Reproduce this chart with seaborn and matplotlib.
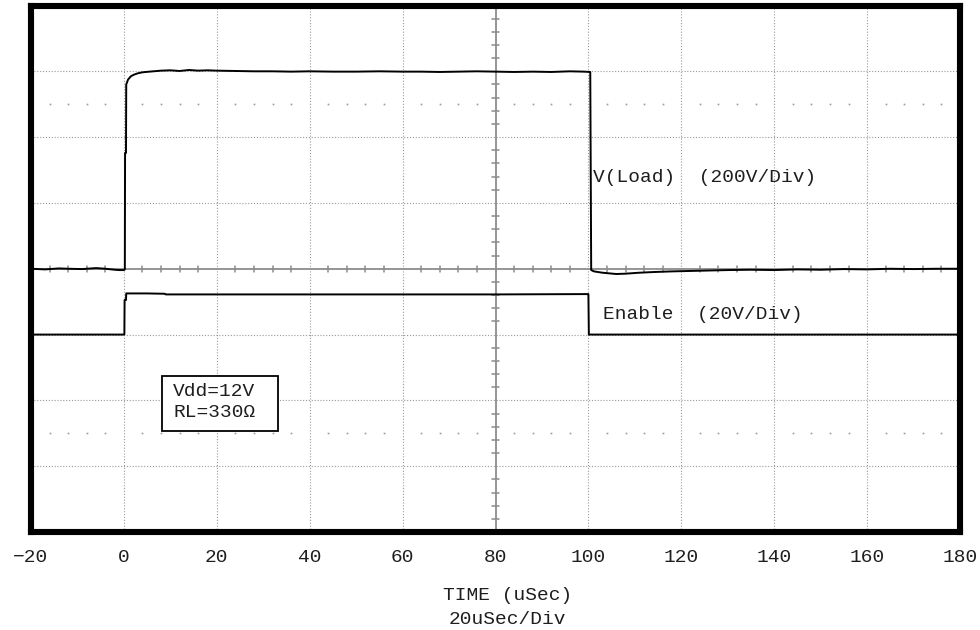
import numpy as np
import pandas as pd
import matplotlib
matplotlib.use("Agg")
import matplotlib.pyplot as plt
from matplotlib.patches import Rectangle
import seaborn as sns

# ---------------- data ----------------
x_ticks = [-20, 0, 20, 40, 60, 80, 100, 120, 140, 160, 180]
x_tick_labels = ["\u221220", "0", "20", "40", "60", "80", "100", "120", "140", "160", "180"]

# V(Load) trace, volts (200 V/div, ground at centre line)
vload_t = [-20, -17, -14, -12, -9, -6, -4, -2, -1, 0, 0.2, 0.25, 0.45, 0.5, 0.9,
           1.5, 2.2, 3.0, 4.0, 5.5, 8, 10, 12, 14, 16, 18, 20, 24, 28, 32, 36, 40,
           45, 50, 55, 60, 64, 68, 72, 76, 80, 84, 88, 92, 96, 99, 100.4, 100.6,
           101.2, 103, 106, 108, 111, 114, 118, 124, 130, 135, 140, 145, 150, 155,
           160, 165, 170, 175, 180]
vload_v = [0, -2, 1, 0, -1, 2, 0, -3, -4, -4, -2, 352, 352, 560, 575,
           585, 590, 594, 597, 599, 602, 603, 601, 604, 602, 603, 602, 601, 600, 600, 599, 600,
           599, 599, 600, 599, 599, 598, 599, 600, 599, 598, 599, 598, 600, 599, 598, -4,
           -8, -12, -16, -15, -12, -10, -8, -6, -4, -3, -4, -2, -3, -1,
           -2, 0, -1, 0, 0]

# Enable trace, volts (20 V/div, ground one division below centre)
enable_t = [-20, 0.1, 0.15, 0.45, 0.5, 5, 8.8, 9, 20, 40, 60, 80, 99.9, 100.0, 100.1, 180]
enable_v = [0, 0, 10.5, 10.5, 12.5, 12.5, 12.4, 12.2, 12.2, 12.2, 12.2, 12.2, 12.3, 12.3, 0, 0]

vload_scale = 200.0   # V / div
enable_scale = 20.0   # V / div
enable_offset = -1.0  # div

# ---------------- figure ----------------
sns.set_style("white")
plt.rcParams["font.family"] = ["Liberation Mono", "DejaVu Sans"]
FS = 14

fig = plt.figure(figsize=(9.8, 6.3), dpi=100)
ax = fig.add_axes([31 / 980, 1 - 532 / 630, 929 / 980, 526.5 / 630])

df_v = pd.DataFrame({"t": vload_t, "div": np.array(vload_v) / vload_scale})
df_e = pd.DataFrame({"t": enable_t, "div": enable_offset + np.array(enable_v) / enable_scale})

# graticule
grid_kw = dict(color="#9a9a9a", lw=0.8, ls=(0, (1, 1.6)), zorder=1)
for xv in range(-20, 181, 20):
    if xv != 80:
        ax.axvline(xv, **grid_kw)
for yv in range(-4, 5):
    if yv != 0:
        ax.axhline(yv, **grid_kw)
ax.axvline(80, color="#8c8c8c", lw=1.3, zorder=1)
ax.axhline(0, color="#8c8c8c", lw=1.3, zorder=1)
minor_x = [v for v in np.arange(-20, 181, 4) if v % 20 != 0]
for xv in minor_x:
    ax.plot([xv, xv], [-0.045, 0.045], color="#8c8c8c", lw=1.1, zorder=1)
for yv in np.arange(-4, 4.01, 0.2):
    if abs(yv - round(yv)) > 1e-6:
        ax.plot([79.3, 80.7], [yv, yv], color="#8c8c8c", lw=1.1, zorder=1)
for yrow in (2.5, -2.5):
    ax.plot(minor_x, [yrow] * len(minor_x), ls="none", marker="s", ms=1.2,
            color="#9a9a9a", mec="none", zorder=1)

# traces
sns.lineplot(data=df_v, x="t", y="div", ax=ax, color="black", lw=1.4,
             sort=False, estimator=None, zorder=3)
sns.lineplot(data=df_e, x="t", y="div", ax=ax, color="black", lw=1.4,
             sort=False, estimator=None, zorder=3)

# labels inside
txt_kw = dict(fontsize=FS, color="#1e1e1e", va="center", ha="left", zorder=4)
ax.text(101.0, 1.38, "V(Load)  (200V/Div)", **txt_kw)
ax.text(103.2, -0.70, "Enable  (20V/Div)", **txt_kw)
ax.add_patch(Rectangle((8.3, -2.47), 24.8, 0.84, fill=True, facecolor="white",
                       edgecolor="black", lw=1.3, zorder=4))
ax.text(10.6, -1.87, "Vdd=12V", **txt_kw)
ax.text(10.6, -2.19, "RL=330Ω", **txt_kw)

ax.set_xlim(-20, 180)
ax.set_ylim(-4, 4)
ax.set_xticks(x_ticks)
ax.set_xticklabels(x_tick_labels)
ax.set_yticks([])
ax.tick_params(axis="x", length=0, pad=12, labelsize=FS, labelcolor="#1e1e1e")
ax.set_xlabel("")
ax.set_ylabel("")
for sp in ax.spines.values():
    sp.set_visible(True)
    sp.set_color("black")
    sp.set_linewidth(4.4)
    sp.set_zorder(5)

fig.text(508 / 980, 1 - 596 / 630, "TIME (uSec)", ha="center", va="center",
         fontsize=FS, color="#1e1e1e")
fig.text(507 / 980, 1 - 620 / 630, "20uSec/Div", ha="center", va="center",
         fontsize=FS, color="#1e1e1e")

fig.savefig("out.png", dpi=100, facecolor="white")
